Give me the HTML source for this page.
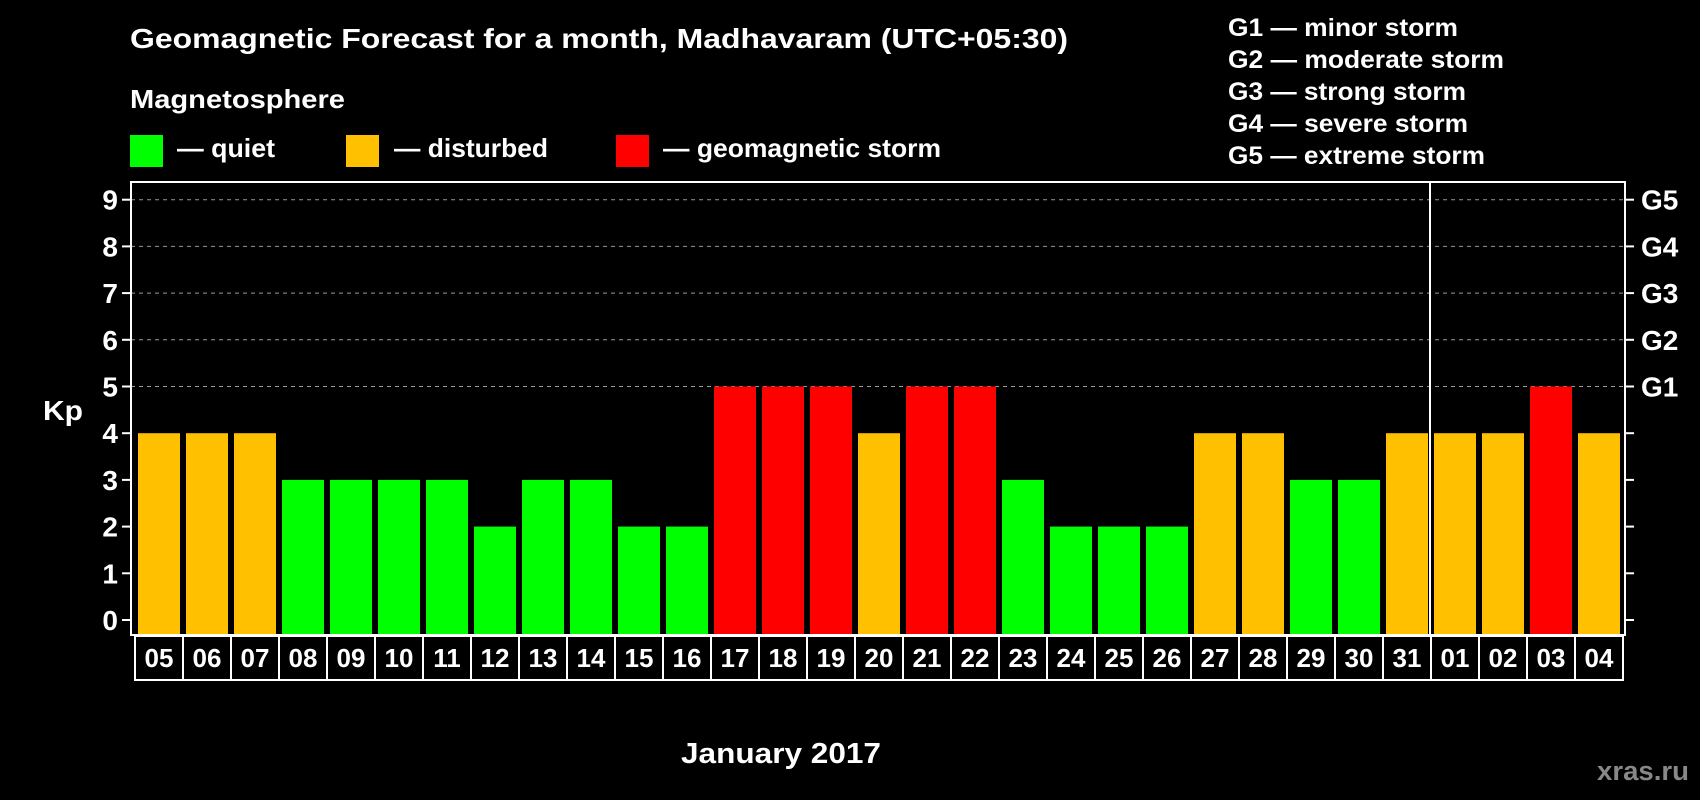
<!DOCTYPE html>
<html><head><meta charset="utf-8"><style>
html,body{margin:0;padding:0;background:#000;}
svg{display:block;font-family:"Liberation Sans",Arial,sans-serif;font-weight:bold;}
</style></head><body>
<svg id="chart" width="1700" height="800" viewBox="0 0 1700 800" xmlns="http://www.w3.org/2000/svg">
<rect width="1700" height="800" fill="#000"/>
<text x="130" y="48" fill="#fff" font-size="28" textLength="938" lengthAdjust="spacingAndGlyphs">Geomagnetic Forecast for a month, Madhavaram (UTC+05:30)</text>
<text x="130" y="108" fill="#fff" font-size="26" textLength="215" lengthAdjust="spacingAndGlyphs">Magnetosphere</text>
<g><rect x="130" y="135" width="33" height="32" fill="#00ff00"/><text x="177" y="157" fill="#fff" font-size="26" textLength="98" lengthAdjust="spacingAndGlyphs">— quiet</text></g>
<g><rect x="346" y="135" width="33" height="32" fill="#ffc000"/><text x="394" y="157" fill="#fff" font-size="26" textLength="154" lengthAdjust="spacingAndGlyphs">— disturbed</text></g>
<g><rect x="616" y="135" width="33" height="32" fill="#ff0000"/><text x="663" y="157" fill="#fff" font-size="26" textLength="278" lengthAdjust="spacingAndGlyphs">— geomagnetic storm</text></g>
<g fill="#fff" font-size="25">
<text x="1228" y="36" textLength="230" lengthAdjust="spacingAndGlyphs">G1 — minor storm</text>
<text x="1228" y="68" textLength="276" lengthAdjust="spacingAndGlyphs">G2 — moderate storm</text>
<text x="1228" y="100" textLength="238" lengthAdjust="spacingAndGlyphs">G3 — strong storm</text>
<text x="1228" y="132" textLength="240" lengthAdjust="spacingAndGlyphs">G4 — severe storm</text>
<text x="1228" y="164" textLength="257" lengthAdjust="spacingAndGlyphs">G5 — extreme storm</text>
</g>
<text x="43" y="420" fill="#fff" font-size="28" textLength="40" lengthAdjust="spacingAndGlyphs">Kp</text>
<text x="681" y="763" fill="#fff" font-size="29" textLength="200" lengthAdjust="spacingAndGlyphs">January 2017</text>
<text x="1597" y="780" fill="#888" font-size="27" textLength="92" lengthAdjust="spacingAndGlyphs">xras.ru</text>
<g id="grid"></g><g id="bars"></g><g id="axes"></g><g id="days"></g>
</svg>
<script>
const days = ["05","06","07","08","09","10","11","12","13","14","15","16","17","18","19","20","21","22","23","24","25","26","27","28","29","30","31","01","02","03","04"];
const kpValues = [4,4,4,3,3,3,3,2,3,3,2,2,5,5,5,4,5,5,3,2,2,2,4,4,3,3,4,4,4,5,4];
const yTicks = [0,1,2,3,4,5,6,7,8,9];
const gLabels = ["","","","","","G1","G2","G3","G4","G5"];
const monthBreakIndex = 27;

const NS = "http://www.w3.org/2000/svg";
const x0 = 135, step = 48, barW = 42, barOff = 3;
const yZero = 620, unit = 46.7;
const frameL = 131, frameR = 1625, frameT = 182, frameB = 635;
function y(v){ return yZero - v*unit; }
function xs(i){ return x0 + i*step; }
function color(v){ return v >= 5 ? "#ff0000" : (v >= 4 ? "#ffc000" : "#00ff00"); }
function mk(tag, attrs, parent){ const e = document.createElementNS(NS, tag); for (const k in attrs) e.setAttribute(k, attrs[k]); parent.appendChild(e); return e; }

const grid = document.getElementById("grid"), bars = document.getElementById("bars"), axes = document.getElementById("axes"), dayG = document.getElementById("days");

yTicks.forEach((t, i) => {
  if (gLabels[i]) {
    const g = mk("line", {x1: frameL, x2: frameR, y1: y(t), y2: y(t), stroke: "#999", "stroke-width": 1, "stroke-dasharray": "4,4"}, grid);
    
    
  }
  const tl = mk("line", {x1: frameL-9, x2: frameL, y1: y(t), y2: y(t), stroke: "#fff", "stroke-width": 2}, axes);
  
  
  const tr = mk("line", {x1: frameR, x2: frameR+9, y1: y(t), y2: y(t), stroke: "#fff", "stroke-width": 2}, axes);
  
  
  const lb = mk("text", {x: 118, y: y(t)+10, fill: "#fff", "font-size": 28, "text-anchor": "end"}, axes);
  lb.textContent = t;
  
  
  if (gLabels[i]) {
    const gl = mk("text", {x: 1641, y: y(t)+10, fill: "#fff", "font-size": 28}, axes);
    gl.textContent = gLabels[i];
    
    
  }
});

kpValues.forEach((v, i) => {
  const b = mk("rect", {x: xs(i)+barOff, y: y(v), width: barW, height: frameB - y(v), fill: color(v)}, bars);
  
  
});

const fr = mk("rect", {x: frameL, y: frameT, width: frameR-frameL, height: frameB-frameT, fill: "none", stroke: "#fff", "stroke-width": 2}, axes);


const sep = mk("line", {x1: xs(monthBreakIndex)-1, x2: xs(monthBreakIndex)-1, y1: frameT, y2: frameB, stroke: "#fff", "stroke-width": 2}, axes);



days.forEach((d, i) => {
  const r = mk("rect", {x: xs(i), y: 636, width: step, height: 44, fill: "#000", stroke: "#fff", "stroke-width": 2}, dayG);
  
  
  const t = mk("text", {x: xs(i)+step/2, y: 667, fill: "#fff", "font-size": 26, "text-anchor": "middle"}, dayG);
  t.textContent = d;
  
  
});
</script>
</body></html>
